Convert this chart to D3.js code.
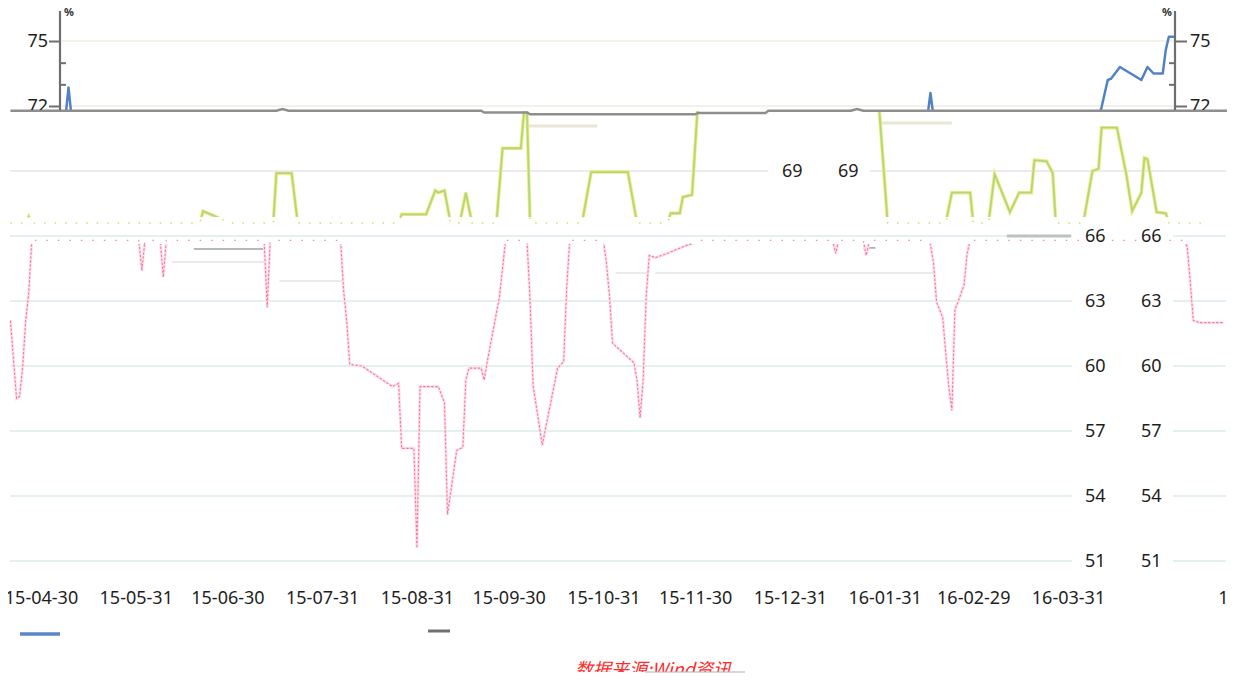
<!DOCTYPE html>
<html>
<head>
<meta charset="utf-8">
<script src="https://cdn.jsdelivr.net/npm/d3@7"></script>
<style>
body { margin: 0; background: #fff; }
svg { display: block; font-family: "Noto Sans", "Open Sans", sans-serif; }
</style>
</head>
<body>
<div id="chart"></div>
<script>
var parse = d3.timeParse("%Y-%m-%d");

// date axis labels (month ends, 16-04-30 is not shown)
var dateTicks = ["2015-04-30","2015-05-31","2015-06-30","2015-07-31","2015-08-31","2015-09-30",
  "2015-10-31","2015-11-30","2015-12-31","2016-01-31","2016-02-29","2016-03-31","2016-05-31"];
var mainTicks = [66, 63, 60, 57, 54, 51];
var upperTicks = [69];
var topTicks = [72, 75];
var topMinor = [73, 74];

// upper panel, blue series
var blueSeries = [["2015-04-20",71.4],["2015-05-08",71.5],["2015-05-09",72.85],["2015-05-10",71.5],
  ["2016-02-14",71.5],["2016-02-15",72.6],["2016-02-16",71.5],
  ["2016-04-10",71.5],["2016-04-11",71.95],["2016-04-13",73.2],["2016-04-14",73.25],["2016-04-17",73.8],
  ["2016-04-24",73.2],["2016-04-26",73.8],["2016-04-28",73.5],["2016-05-01",73.5],["2016-05-02",74.6],
  ["2016-05-03",75.2],["2016-05-05",75.2]];

// upper panel, gray series (sits on the panel's bottom edge)
var graySeries = [["2015-04-20",71.78],["2015-07-16",71.78],["2015-07-18",71.86],["2015-07-20",71.78],
  ["2015-09-21",71.78],["2015-09-22",71.7],["2015-10-06",71.7],["2015-10-07",71.62],["2015-11-30",71.62],
  ["2015-12-01",71.68],["2015-12-23",71.68],["2015-12-24",71.78],["2016-01-20",71.78],["2016-01-22",71.86],
  ["2016-01-24",71.78],["2016-05-22",71.78]];

// lower panel, green series
var greenSeries = [["2015-04-20",66.6],["2015-04-25",66.6],["2015-04-26",66.9],["2015-04-27",66.6],
  ["2015-06-21",66.6],["2015-06-22",67.15],["2015-07-01",66.6],
  ["2015-07-15",66.6],["2015-07-16",68.9],["2015-07-21",68.9],["2015-07-23",66.6],
  ["2015-08-25",66.6],["2015-08-26",67.0],["2015-09-03",67.0],["2015-09-06",68.1],["2015-09-07",68.0],
  ["2015-09-09",68.1],["2015-09-11",66.6],["2015-09-14",66.6],["2015-09-16",68.0],["2015-09-18",66.6],
  ["2015-09-26",66.6],["2015-09-28",70.05],["2015-10-04",70.05],["2015-10-05",71.7],["2015-10-06",71.7],
  ["2015-10-07",66.6],["2015-10-24",66.6],["2015-10-27",68.95],["2015-11-08",68.95],["2015-11-11",66.6],
  ["2015-11-21",66.6],["2015-11-22",67.05],["2015-11-25",67.05],["2015-11-26",67.8],["2015-11-29",67.9],
  ["2015-12-01",72.3],["2016-01-29",72.3],["2016-02-01",66.6],
  ["2016-02-20",66.6],["2016-02-22",68.0],["2016-02-28",68.0],["2016-02-29",66.6],
  ["2016-03-05",66.6],["2016-03-07",68.85],["2016-03-12",67.1],["2016-03-15",68.0],["2016-03-19",68.0],
  ["2016-03-20",69.5],["2016-03-24",69.45],["2016-03-26",68.9],["2016-03-27",66.6],
  ["2016-04-05",66.6],["2016-04-08",69.0],["2016-04-10",69.1],["2016-04-11",71.0],["2016-04-16",71.0],
  ["2016-04-19",68.9],["2016-04-21",67.15],["2016-04-24",68.0],["2016-04-25",69.6],["2016-04-26",69.55],
  ["2016-04-29",67.1],["2016-05-02",67.05],["2016-05-03",66.6],["2016-05-15",66.6]];

// lower panel, pink series
var pinkSeries = [["2015-04-20",62.1],["2015-04-22",58.5],["2015-04-23",58.6],["2015-04-24",59.95],
  ["2015-04-25",62.1],["2015-04-26",63.4],["2015-04-27",65.8],
  ["2015-06-01",65.8],["2015-06-02",64.4],["2015-06-03",65.8],
  ["2015-06-08",65.8],["2015-06-09",64.1],["2015-06-10",65.8],
  ["2015-07-12",65.8],["2015-07-13",62.7],["2015-07-14",65.8],
  ["2015-08-06",65.8],["2015-08-07",63.5],["2015-08-08",62.1],["2015-08-09",60.1],["2015-08-10",60.05],
  ["2015-08-13",60.0],["2015-08-23",59.05],["2015-08-25",59.2],["2015-08-26",56.2],["2015-08-30",56.2],
  ["2015-08-31",51.6],["2015-09-01",59.05],["2015-09-07",59.05],["2015-09-09",58.3],["2015-09-10",53.15],
  ["2015-09-13",56.1],["2015-09-15",56.25],["2015-09-16",59.35],["2015-09-17",59.9],["2015-09-21",59.9],
  ["2015-09-22",59.35],["2015-09-23",60.2],["2015-09-27",63.2],["2015-09-29",65.8],
  ["2015-10-06",65.8],["2015-10-07",63.05],["2015-10-08",59.1],["2015-10-11",56.35],["2015-10-16",59.9],
  ["2015-10-18",60.2],["2015-10-19",63.65],["2015-10-20",65.8],
  ["2015-10-31",65.8],["2015-11-01",64.75],["2015-11-02",63.2],["2015-11-03",61.05],["2015-11-10",60.15],
  ["2015-11-11",59.35],["2015-11-12",57.6],["2015-11-13",59.35],["2015-11-14",63.2],["2015-11-15",65.1],
  ["2015-11-17",65.0],["2015-11-21",65.2],["2015-11-26",65.5],["2015-12-02",65.8],
  ["2016-01-14",65.8],["2016-01-15",65.2],["2016-01-16",65.8],
  ["2016-01-24",65.8],["2016-01-25",65.1],["2016-01-26",65.8],
  ["2016-02-14",65.8],["2016-02-15",65.6],["2016-02-16",64.75],["2016-02-17",62.95],["2016-02-19",62.25],
  ["2016-02-20",60.6],["2016-02-21",59.05],["2016-02-22",57.95],["2016-02-23",62.6],["2016-02-24",62.95],
  ["2016-02-26",63.75],["2016-02-27",65.2],["2016-02-28",65.8],
  ["2016-05-08",65.8],["2016-05-09",65.5],["2016-05-10",63.9],["2016-05-11",62.1],["2016-05-13",62.0],
  ["2016-05-21",62.0]];

// stray flat strokes left in the picture: [from, to, value]
var lightSegs = [["2015-06-12","2015-07-12",64.8],["2015-07-17","2015-08-07",63.92],
  ["2015-11-04","2015-11-15",64.29],["2015-11-17","2016-02-16",64.29]];
var darkSegs = [["2015-06-19","2015-07-12",65.4],["2016-01-24","2016-01-28",65.45],["2016-03-11","2016-04-01",66.0]];
var beigeSegs = [["2015-10-06","2015-10-29",71.08],["2016-01-30","2016-02-22",71.22]];

var sourceText = "数据来源:Wind资讯";

var W = 1240, H = 684;

var x = d3.scaleTime()
  .domain([parse("2015-04-30"), parse("2016-03-31")])
  .range([41, 1068]);
var y = d3.scaleLinear()
  .domain([51, 69])
  .range([561, 171]);

function prep(arr) { return arr.map(function(d) { return [parse(d[0]), d[1]]; }); }

var svg = d3.select("#chart").append("svg")
  .attr("width", W)
  .attr("height", H);

var defs = svg.append("defs");
function clip(id, x0, y0, w, h) {
  defs.append("clipPath").attr("id", id)
    .append("rect").attr("x", x0).attr("y", y0).attr("width", w).attr("height", h);
}
clip("top-clip", 0, 0, W, 110);
clip("green-clip", 0, 111, W, 106);
clip("band-clip", 0, 217, W, 27);
clip("pink-clip", 0, 244, W, 360);
clip("source-clip", 0, 0, W, 672);
clip("date-clip", 8, 570, 1219, 50);

// gridlines
var grid = svg.append("g");
function hline(g, x1, x2, yy, color, w) {
  g.append("line").attr("x1", x1).attr("x2", x2).attr("y1", yy).attr("y2", yy)
    .attr("stroke", color).attr("stroke-width", w);
}
mainTicks.forEach(function(v) {
  hline(grid, 10, 1072, y(v), "#d8ece9", 1.5);
  hline(grid, 1173, 1226, y(v), "#d8ece9", 1.5);
});
upperTicks.forEach(function(v) {
  hline(grid, 10, 768, y(v), "#ebdff0", 1.5);
  hline(grid, 870, 1226, y(v), "#ebdff0", 1.5);
});
topTicks.forEach(function(v) {
  hline(grid, 62, 1175, y(v), "#f0ece4", 1.5);
});

// stray strokes
var segs = svg.append("g");
lightSegs.forEach(function(s) { hline(segs, x(parse(s[0])), x(parse(s[1])), y(s[2]), "#e3e3e3", 1.5); });
darkSegs.forEach(function(s, i) {
  hline(segs, x(parse(s[0])), x(parse(s[1])), y(s[2]), i == 2 ? "#bcc3be" : "#a2a2a2", i == 2 ? 3 : 1.5);
});
beigeSegs.forEach(function(s) { hline(segs, x(parse(s[0])), x(parse(s[1])), y(s[2]), "#e9e6d7", 3); });

var line = d3.line()
  .x(function(d) { return x(d[0]); })
  .y(function(d) { return y(d[1]); });

var green = prep(greenSeries), pink = prep(pinkSeries);

// green series: solid above the 66 band, sparse inside it
var gA = svg.append("g").attr("clip-path", "url(#green-clip)");
gA.append("path").datum(green).attr("d", line).attr("fill", "none")
  .attr("stroke", "#eef26c").attr("stroke-width", 3.5);
gA.append("path").datum(green).attr("d", line).attr("fill", "none")
  .attr("stroke", "#b2d38b").attr("stroke-width", 1.8);
svg.append("g").attr("clip-path", "url(#band-clip)")
  .append("path").datum(green).attr("d", line).attr("fill", "none")
  .attr("stroke", "#cfe06a").attr("stroke-width", 1.5).attr("stroke-dasharray", "1.5,9");

// pink series: dotted below the band
var gB = svg.append("g").attr("clip-path", "url(#pink-clip)");
gB.append("path").datum(pink).attr("d", line).attr("fill", "none")
  .attr("stroke", "#fde3ec").attr("stroke-width", 3);
gB.append("path").datum(pink).attr("d", line).attr("fill", "none")
  .attr("stroke", "#f27aa2").attr("stroke-width", 1.1).attr("stroke-dasharray", "2.5,1.5");
svg.append("g").attr("clip-path", "url(#band-clip)")
  .append("path").datum(pink).attr("d", line).attr("fill", "none")
  .attr("stroke", "#f08ab0").attr("stroke-width", 1.3).attr("stroke-dasharray", "1.5,10");

// upper panel
svg.append("g").attr("clip-path", "url(#top-clip)")
  .append("path").datum(prep(blueSeries)).attr("d", line).attr("fill", "none")
  .attr("stroke", "#5282c4").attr("stroke-width", 2.5).attr("stroke-linejoin", "round");
svg.append("path").datum(prep(graySeries)).attr("d", line).attr("fill", "none")
  .attr("stroke", "#8e8e8e").attr("stroke-width", 2.4);

function styleAxis(g, size) {
  g.attr("font-family", null).attr("font-size", null);
  g.select(".domain").remove();
  g.selectAll("line").attr("stroke", "#6e6e6e").attr("stroke-width", 2);
  g.selectAll("text").attr("fill", "#1e1e1e").style("font-size", size + "px");
}

var topAxes = svg.append("g").attr("clip-path", "url(#top-clip)");
topAxes.append("g").attr("transform", "translate(60,0)")
  .call(d3.axisLeft(y).tickValues(topTicks).tickSize(11).tickPadding(1))
  .call(styleAxis, 18);
topAxes.append("g").attr("transform", "translate(60,0)")
  .call(d3.axisLeft(y).tickValues(topMinor).tickSize(-6).tickFormat(""))
  .call(styleAxis, 18);
topAxes.append("g").attr("transform", "translate(1175,0)")
  .call(d3.axisRight(y).tickValues(topTicks).tickSize(12).tickPadding(3))
  .call(styleAxis, 18);
topAxes.append("g").attr("transform", "translate(1175,0)")
  .call(d3.axisRight(y).tickValues(topMinor).tickSize(-6).tickFormat(""))
  .call(styleAxis, 18);
[60, 1175].forEach(function(px) {
  topAxes.append("line").attr("x1", px).attr("x2", px).attr("y1", 11).attr("y2", 110)
    .attr("stroke", "#6e6e6e").attr("stroke-width", 2.2);
});
topAxes.append("text").attr("x", 64).attr("y", 16).text("%")
  .attr("font-size", 11).attr("font-weight", "bold").attr("fill", "#333");
topAxes.append("text").attr("x", 1162).attr("y", 16).text("%")
  .attr("font-size", 11).attr("font-weight", "bold").attr("fill", "#333");

// lower panel value labels, drawn twice side by side
[1085, 1141].forEach(function(px) {
  svg.append("g").attr("transform", "translate(" + px + ",0)")
    .call(d3.axisRight(y).tickValues(mainTicks).tickSize(0).tickPadding(0))
    .call(styleAxis, 18);
});
[782, 838].forEach(function(px) {
  svg.append("g").attr("transform", "translate(" + px + ",0)")
    .call(d3.axisRight(y).tickValues(upperTicks).tickSize(0).tickPadding(0))
    .call(styleAxis, 18);
});

// date axis (cut at both ends like the picture)
svg.append("g").attr("clip-path", "url(#date-clip)")
  .append("g").attr("transform", "translate(0,591)")
  .call(d3.axisBottom(x).tickValues(dateTicks.map(parse))
    .tickFormat(d3.timeFormat("%y-%m-%d")).tickSize(0).tickPadding(0))
  .call(styleAxis, 18);

// legend marks
svg.append("line").attr("x1", 20).attr("x2", 60).attr("y1", 634).attr("y2", 634)
  .attr("stroke", "#5b87c6").attr("stroke-width", 3.5);
svg.append("line").attr("x1", 428).attr("x2", 450).attr("y1", 631).attr("y2", 631)
  .attr("stroke", "#707070").attr("stroke-width", 3);

// source note
svg.append("g").attr("clip-path", "url(#source-clip)")
  .append("text").attr("x", 575).attr("y", 676).text(sourceText)
  .attr("font-family", "'Noto Sans CJK SC', sans-serif").attr("font-size", 18)
  .attr("font-style", "italic").attr("fill", "#ff2a2a");
svg.append("line").attr("x1", 645).attr("x2", 745).attr("y1", 672).attr("y2", 672)
  .attr("stroke", "#b0b0b0").attr("stroke-width", 1);
</script>
</body>
</html>
